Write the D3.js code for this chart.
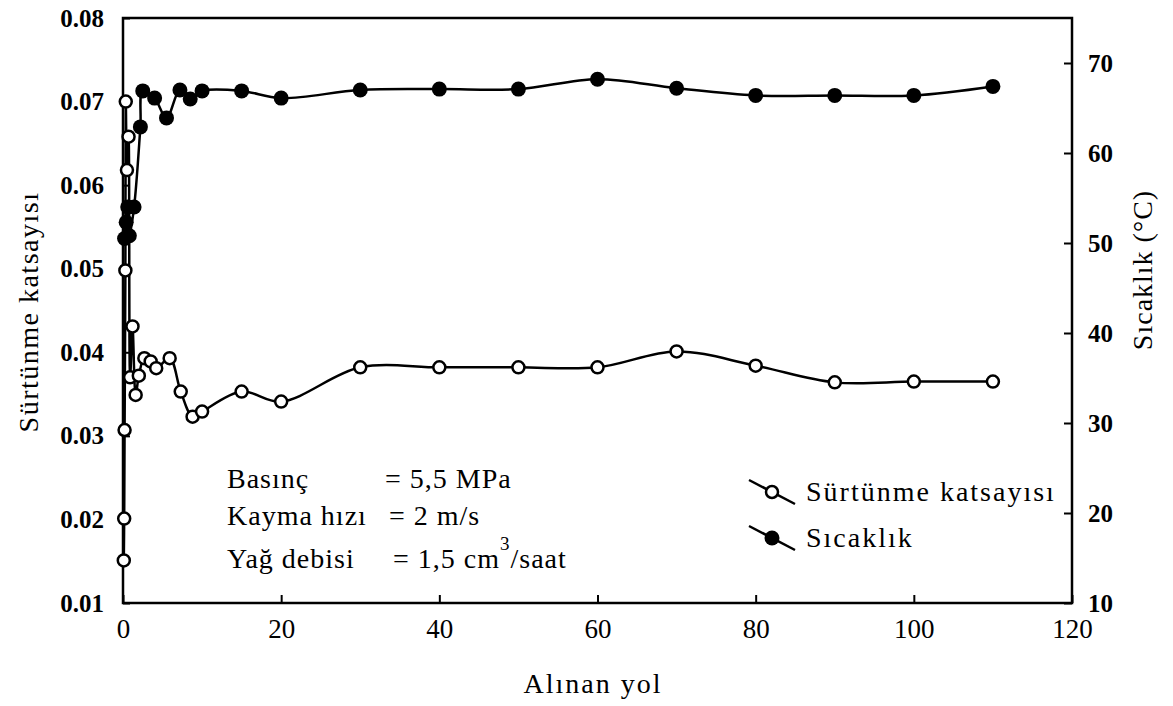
<!DOCTYPE html>
<html>
<head>
    <meta charset="utf-8">
    <title>Sürtünme katsayısı ve sıcaklık</title>
    <script src="https://d3js.org/d3.v7.min.js"></script>
    <style>
        body { margin: 0; background: #fff; }
        svg text { font-family: "Times New Roman", "Liberation Serif", "DejaVu Serif", serif; fill: #000; }
        .line { fill: none; stroke: #000; stroke-width: 2.5px; }
        .tick-y { font-size: 25px; font-weight: bold; }
        .tick-x { font-size: 27px; }
        .title { font-size: 28px; }
        .note { font-size: 28px; letter-spacing: 1px; }
        .legend { font-size: 28px; letter-spacing: 2px; }
    </style>
</head>
<body>
    <svg width="1173" height="706"></svg>
    <script>
        // Sürtünme katsayısı (open circles, left axis)
        var frictionX = [0.1, 0.15, 0.2, 0.3, 0.35, 0.5, 0.7, 0.9, 1.2, 1.6, 2.0, 2.7, 3.5, 4.2, 5.9, 7.3, 8.8, 10, 15, 20, 30, 40, 50, 60, 70, 80, 90, 100, 110];
        var frictionY = [0.0151, 0.0201, 0.0307, 0.0498, 0.0700, 0.0618, 0.0658, 0.0370, 0.0431, 0.0349, 0.0372, 0.0393, 0.0389, 0.0381, 0.0393, 0.0353, 0.0323, 0.0329, 0.0353, 0.0341, 0.0382, 0.0382, 0.0382, 0.0382, 0.0401, 0.0384, 0.0364, 0.0365, 0.0365];

        // Sıcaklık (filled circles, right axis)
        var tempX = [0.2, 0.4, 0.6, 0.8, 1.4, 2.2, 2.5, 4.0, 5.5, 7.2, 8.5, 10, 15, 20, 30, 40, 50, 60, 70, 80, 90, 100, 110];
        var tempY = [50.5, 52.3, 54.0, 50.8, 54.0, 62.9, 66.9, 66.1, 63.9, 67.0, 66.0, 66.9, 66.9, 66.1, 67.0, 67.1, 67.1, 68.2, 67.2, 66.4, 66.4, 66.4, 67.4];

        var xTicks = [0, 20, 40, 60, 80, 100, 120];
        var leftTicks = [0.01, 0.02, 0.03, 0.04, 0.05, 0.06, 0.07, 0.08];
        var rightTicks = [10, 20, 30, 40, 50, 60, 70];

        var svg = d3.select("svg"),
            margin = {top: 18, right: 101, bottom: 103, left: 123},
            width = +svg.attr("width") - margin.left - margin.right,
            height = +svg.attr("height") - margin.top - margin.bottom;

        var x = d3.scaleLinear().domain([0, 120]).range([0, width]);
        var yL = d3.scaleLinear().domain([0.01, 0.08]).range([height, 0]);
        var yR = d3.scaleLinear().domain([10, 75]).range([height, 0]);

        var g = svg.append("g")
                   .attr("transform", "translate(" + margin.left + "," + margin.top + ")");

        // frame
        g.append("rect")
         .attr("width", width).attr("height", height)
         .attr("fill", "none").attr("stroke", "#000").attr("stroke-width", 2.5);

        var xAxis = g.append("g")
         .attr("transform", "translate(0," + height + ")")
         .call(d3.axisBottom(x).tickValues(xTicks).tickSize(-8).tickPadding(16).tickFormat(d3.format("d")));
        xAxis.selectAll("text").attr("class", "tick-x");

        var lAxis = g.append("g")
         .call(d3.axisLeft(yL).tickValues(leftTicks).tickSize(-7).tickPadding(19).tickFormat(d3.format(".2f")));
        lAxis.selectAll("text").attr("class", "tick-y");

        var rAxis = g.append("g")
         .attr("transform", "translate(" + width + ",0)")
         .call(d3.axisRight(yR).tickValues(rightTicks).tickSize(-8).tickPadding(16).tickFormat(d3.format("d")));
        rAxis.selectAll("text").attr("class", "tick-y");

        [xAxis, lAxis, rAxis].forEach(function(a) {
            a.attr("font-family", null);
            a.select(".domain").remove();
            a.selectAll("line").attr("stroke", "#000").attr("stroke-width", 2);
        });

        // series
        var friction = frictionX.map(function(v, i) { return {x: v, y: frictionY[i]}; });
        var temp = tempX.map(function(v, i) { return {x: v, y: tempY[i]}; });

        var curve = d3.curveCatmullRom.alpha(0.5);
        var lineF = d3.line().curve(curve).x(d => x(d.x)).y(d => yL(d.y));
        var lineT = d3.line().curve(curve).x(d => x(d.x)).y(d => yR(d.y));

        g.append("path").datum(friction).attr("class", "line").attr("d", lineF);
        g.append("path").datum(temp).attr("class", "line").attr("d", lineT);

        g.selectAll(".pf").data(friction).enter().append("circle")
         .attr("cx", d => x(d.x)).attr("cy", d => yL(d.y)).attr("r", 6)
         .attr("fill", "#fff").attr("stroke", "#000").attr("stroke-width", 2.5);

        g.selectAll(".pt").data(temp).enter().append("circle")
         .attr("cx", d => x(d.x)).attr("cy", d => yR(d.y)).attr("r", 7.5)
         .attr("fill", "#000");

        // axis titles
        svg.append("text").attr("class", "title")
           .attr("x", 593).attr("y", 693).attr("text-anchor", "middle")
           .attr("letter-spacing", 2).text("Alınan yol");

        svg.append("text").attr("class", "title")
           .attr("transform", "translate(38,312) rotate(-90)")
           .attr("text-anchor", "middle").attr("letter-spacing", 1.5).text("Sürtünme katsayısı");

        svg.append("text").attr("class", "title")
           .attr("transform", "translate(1152,270) rotate(-90)")
           .attr("text-anchor", "middle").attr("letter-spacing", 1).text("Sıcaklık (°C)");

        // test conditions
        var notes = [
            {label: "Basınç", value: "= 5,5 MPa", vx: 385, y: 488},
            {label: "Kayma hızı", value: "= 2 m/s", vx: 389, y: 525},
            {label: "Yağ debisi", value: "= 1,5 cm", vx: 393, y: 568}
        ];
        notes.forEach(function(n, i) {
            svg.append("text").attr("class", "note").attr("x", 227).attr("y", n.y).text(n.label);
            var t = svg.append("text").attr("class", "note").attr("x", n.vx).attr("y", n.y).text(n.value);
            if (i === 2) {
                t.append("tspan").attr("dy", -18).attr("font-size", "19px").text("3");
                t.append("tspan").attr("dy", 18).text("/saat");
            }
        });

        // legend
        var legend = [
            {name: "Sürtünme katsayısı", filled: false, y: 492},
            {name: "Sıcaklık", filled: true, y: 538}
        ];
        legend.forEach(function(l) {
            svg.append("line")
               .attr("x1", 749).attr("y1", l.y - 12).attr("x2", 795).attr("y2", l.y + 12)
               .attr("stroke", "#000").attr("stroke-width", 2.5);
            svg.append("circle")
               .attr("cx", 772).attr("cy", l.y).attr("r", l.filled ? 7.5 : 6)
               .attr("fill", l.filled ? "#000" : "#fff")
               .attr("stroke", "#000").attr("stroke-width", l.filled ? 0 : 2.5);
            svg.append("text").attr("class", "legend")
               .attr("x", 806).attr("y", l.y + 9).text(l.name);
        });
    </script>
</body>
</html>
